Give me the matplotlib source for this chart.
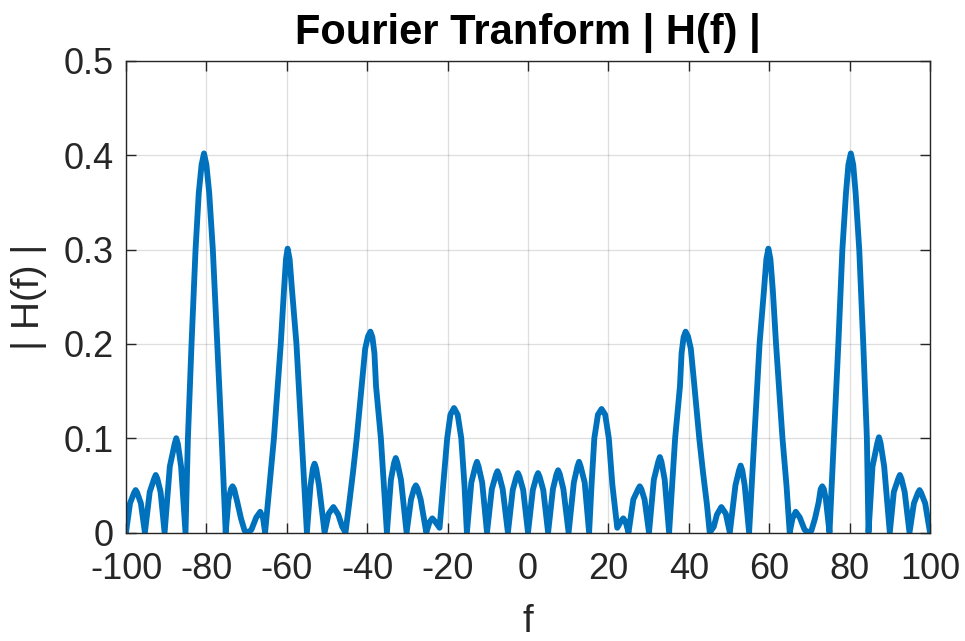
import matplotlib
matplotlib.use('Agg')
import matplotlib.pyplot as plt

plt.rcParams['font.family'] = ['Liberation Sans', 'DejaVu Sans']
plt.rcParams['axes.unicode_minus'] = False

############  |H(f)|, lobe by lobe  ############
freq = [
    -100.0, -99.0, -98.0, -97.6, -97.2, -96.3,
    -95.3, -94.1, -93.0, -92.6, -92.2, -91.4,
    -90.4, -89.1, -87.9, -87.5, -87.1, -86.3,
    -85.2, -84.6, -83.7, -82.7, -81.9, -81.2, -80.6, -80.0, -79.3, -78.4, -77.3, -76.2,
    -75.2, -74.5, -73.9, -73.5, -73.1, -72.3, -71.4, -70.5, -69.6, -68.8,
    -67.6, -66.6, -65.9,
    -65.4, -64.3, -63.2, -61.5, -60.7, -60.2, -59.8, -59.3, -58.7, -57.6, -56.3,
    -55.0, -54.1, -53.5, -53.1, -52.7, -52.0,
    -50.6, -49.6, -48.4, -47.2, -46.2,
    -45.4, -44.5, -43.5, -42.6, -41.4, -40.5, -39.8, -39.2, -38.7, -38.2, -37.8, -36.6,
    -35.1, -34.1, -33.3, -32.9, -32.5, -31.6,
    -30.2, -29.1, -28.3, -27.9, -27.5, -26.7,
    -25.3, -24.5, -23.8, -23.0, -22.0,
    -21.1, -20.1, -19.3, -18.4, -17.5, -16.6, -15.8,
    -15.2, -14.1, -13.1, -12.7, -12.3, -11.4,
    -10.2, -9.0, -8.0, -7.6, -7.2, -6.3,
    -5.0, -3.8, -2.9, -2.5, -2.1, -1.2,
    0.0, 1.2, 2.1, 2.5, 2.9, 3.8,
    5.0, 6.2, 7.1, 7.5, 7.9, 8.8,
    10.1, 11.4, 12.3, 12.7, 13.1, 14.1,
    15.2, 15.8, 16.5, 17.4, 18.3, 19.2, 20.1, 21.0, 22.2,
    23.0, 23.7, 24.3,
    25.0, 26.2, 27.4, 27.8, 28.2, 29.0,
    30.1, 31.3, 32.4, 32.8, 33.2, 34.0,
    35.1, 36.6, 37.8, 38.2, 38.7, 39.2, 39.8, 40.5, 41.4, 42.6, 43.5, 44.5,
    45.2, 46.2, 47.0, 48.1, 49.2,
    50.2, 51.6, 52.5, 52.9, 53.3, 53.9,
    55.0, 56.3, 57.6, 58.7, 59.3, 59.8, 60.3, 60.9, 61.7, 63.3, 64.3,
    65.1, 65.8, 66.6, 67.6, 68.8, 69.7, 70.5, 71.4, 72.3, 72.8, 73.2, 73.6, 74.1,
    75.0, 76.1, 77.2, 78.2, 79.1, 79.7, 80.3, 80.9, 81.5, 82.4, 83.4, 84.3,
    84.7, 85.7, 86.9, 87.3, 87.7, 88.6,
    90.0, 91.0, 92.1, 92.5, 92.9, 93.7,
    94.9, 96.0, 97.0, 97.4, 97.8, 98.8, 100.0,
]
mag = [
    0.0, 0.031, 0.042, 0.045, 0.042, 0.031,
    0.0, 0.043, 0.057, 0.061, 0.057, 0.043,
    0.0, 0.070, 0.094, 0.100, 0.094, 0.070,
    0.0, 0.10, 0.20, 0.30, 0.36, 0.39, 0.402, 0.39, 0.36, 0.30, 0.20, 0.10,
    0.0, 0.035, 0.046, 0.049, 0.046, 0.032, 0.015, 0.002, 0.0, 0.003,
    0.016, 0.022, 0.015,
    0.0, 0.05, 0.10, 0.20, 0.257, 0.29, 0.301, 0.29, 0.257, 0.20, 0.10,
    0.0, 0.05, 0.068, 0.073, 0.068, 0.05,
    0.0, 0.020, 0.027, 0.019, 0.006,
    0.0, 0.03, 0.065, 0.10, 0.155, 0.195, 0.208, 0.213, 0.207, 0.19, 0.155, 0.10,
    0.0, 0.056, 0.074, 0.079, 0.074, 0.056,
    0.0, 0.035, 0.047, 0.050, 0.047, 0.035,
    0.0, 0.011, 0.015, 0.011, 0.005,
    0.05, 0.10, 0.125, 0.132, 0.125, 0.10, 0.05,
    0.0, 0.053, 0.070, 0.075, 0.070, 0.053,
    0.0, 0.046, 0.061, 0.065, 0.061, 0.046,
    0.0, 0.045, 0.059, 0.063, 0.059, 0.045,
    0.0, 0.045, 0.059, 0.063, 0.059, 0.045,
    0.0, 0.046, 0.062, 0.066, 0.062, 0.046,
    0.0, 0.053, 0.070, 0.075, 0.070, 0.053,
    0.0, 0.05, 0.10, 0.125, 0.131, 0.125, 0.10, 0.05, 0.005,
    0.011, 0.015, 0.011,
    0.0, 0.035, 0.046, 0.049, 0.046, 0.035,
    0.0, 0.056, 0.075, 0.080, 0.075, 0.056,
    0.0, 0.10, 0.155, 0.19, 0.207, 0.213, 0.208, 0.195, 0.155, 0.10, 0.065, 0.03,
    0.0, 0.006, 0.019, 0.027, 0.020,
    0.0, 0.05, 0.066, 0.071, 0.066, 0.05,
    0.0, 0.10, 0.20, 0.257, 0.29, 0.301, 0.29, 0.257, 0.20, 0.10, 0.05,
    0.0, 0.015, 0.022, 0.016, 0.003, 0.0, 0.002, 0.015, 0.032, 0.046, 0.049, 0.046, 0.035,
    0.0, 0.10, 0.20, 0.30, 0.36, 0.39, 0.402, 0.39, 0.36, 0.30, 0.20, 0.10,
    0.0, 0.070, 0.095, 0.101, 0.095, 0.070,
    0.0, 0.043, 0.057, 0.061, 0.057, 0.043,
    0.0, 0.031, 0.042, 0.045, 0.042, 0.031, 0.0,
]
xticks = [-100, -80, -60, -40, -20, 0, 20, 40, 60, 80, 100]
yticks = [0, 0.1, 0.2, 0.3, 0.4, 0.5]
ytick_labels = ['0', '0.1', '0.2', '0.3', '0.4', '0.5']

###################      figure / axes      #######################
W, H = 965, 641
fig = plt.figure(figsize=(W / 100, H / 100), dpi=100)
ax = fig.add_axes([126 / W, 1 - 532.5 / H, (930 - 126) / W, (532.5 - 61) / H])

ax.plot(freq, mag, color='#0072BD', linewidth=4.2,
        solid_joinstyle='round', solid_capstyle='round')

ax.set_xlim(-100, 100)
ax.set_ylim(0, 0.5)
ax.set_xticks(xticks)
ax.set_xticklabels([str(t) for t in xticks])
ax.set_yticks(yticks)
ax.set_yticklabels(ytick_labels)

ax.set_axisbelow(True)
ax.grid(True, color='#262626', alpha=0.15, linewidth=0.9)
ax.tick_params(direction='in', length=7, width=1, top=True, right=True,
               labelsize=26, colors='#262626')
ax.tick_params(axis='x', pad=14)
ax.tick_params(axis='y', pad=9)
for s in ax.spines.values():
    s.set_color('#262626')
    s.set_linewidth(1)

ax.set_title('Fourier Tranform | H(f) |', fontsize=30, fontweight='bold',
             color='black', pad=12)
ax.set_xlabel('f', fontsize=28, color='#262626', labelpad=12)
ax.set_ylabel('| H(f) |', fontsize=28, color='#262626', labelpad=12)

fig.savefig('out.png', dpi=100)
